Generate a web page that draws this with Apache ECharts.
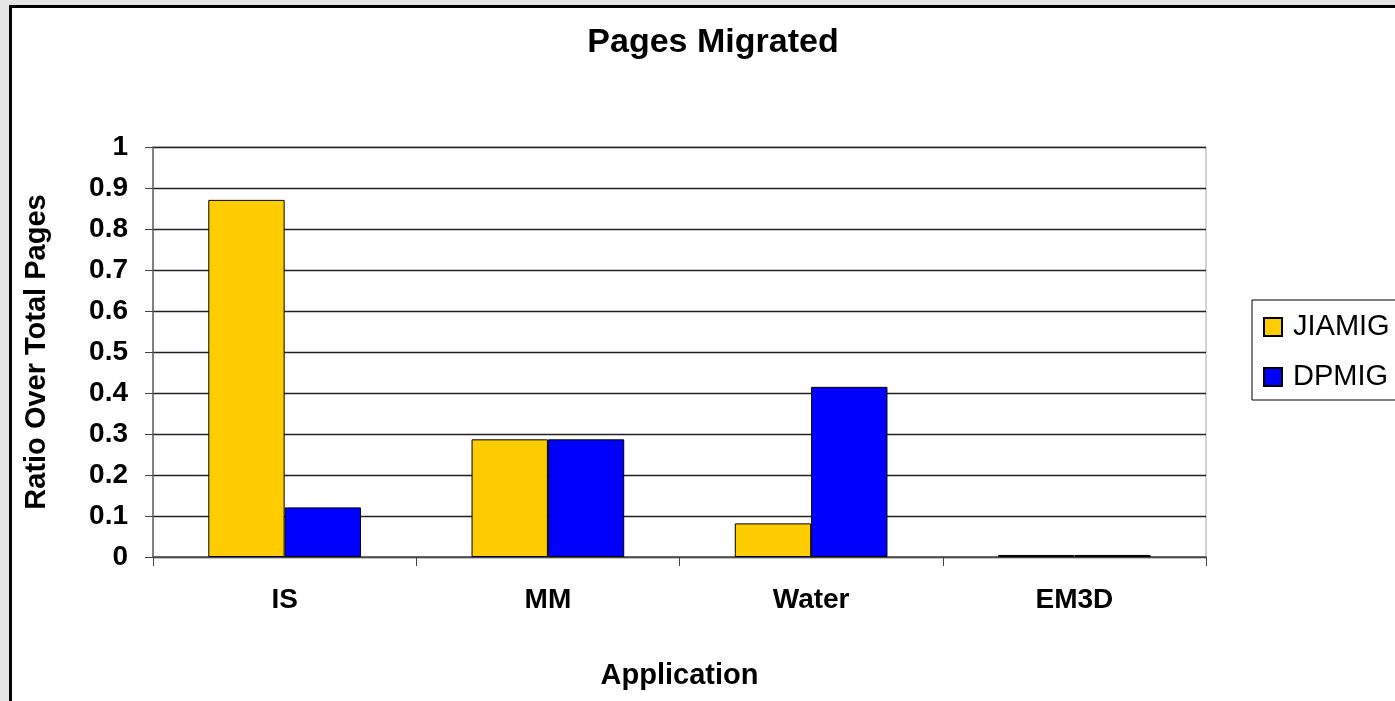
<!DOCTYPE html>
<html>
<head>
<meta charset="utf-8">
<script src="https://cdn.jsdelivr.net/npm/echarts@6/dist/echarts.min.js"></script>
<style>
  html, body { margin: 0; padding: 0; background: #e6e6e6; overflow: hidden; }
  #frame { position: absolute; left: 9px; top: 5px; width: 1500px; height: 800px; background: #fff; border: 3px solid #000; box-sizing: border-box; }
  #chart { position: absolute; left: 0; top: 0; width: 1395px; height: 701px; }
</style>
</head>
<body>
<div id="frame"></div>
<div id="chart"></div>
<script>
const categories = ['IS', 'MM', 'Water', 'EM3D'];
const seriesNames = ['JIAMIG', 'DPMIG'];
const jiamig = [0.871, 0.287, 0.082, 0.005];
const dpmig = [0.121, 0.287, 0.415, 0.005];
const yTicks = [0, 0.1, 0.2, 0.3, 0.4, 0.5, 0.6, 0.7, 0.8, 0.9, 1];

const FONT = "'Liberation Sans', Arial, sans-serif";
const chart = echarts.init(document.getElementById('chart'), null, { renderer: 'canvas' });

chart.setOption({
  backgroundColor: 'transparent',
  animation: false,
  title: {
    text: 'Pages Migrated',
    left: 708,
    textAlign: 'center',
    top: 21,
    textStyle: { fontFamily: FONT, fontSize: 34, fontWeight: 'bold', color: '#000' }
  },
  legend: {
    orient: 'vertical',
    left: 1252,
    top: 300,
    padding: [12, 30, 8, 11],
    itemGap: 20,
    itemWidth: 18,
    itemHeight: 18,
    icon: 'rect',
    borderColor: '#000',
    borderWidth: 1,
    backgroundColor: '#fff',
    data: seriesNames,
    textStyle: { fontFamily: FONT, fontSize: 29, color: '#000', lineHeight: 30, padding: [0, 0, 0, 6] }
  },
  grid: {
    left: 153, right: 189, top: 147, bottom: 144,
    show: true, borderColor: '#a8a8a8', borderWidth: 1, backgroundColor: 'transparent'
  },
  xAxis: {
    type: 'category',
    data: categories,
    name: 'Application',
    nameLocation: 'middle',
    nameGap: 104,
    nameTextStyle: { fontFamily: FONT, fontSize: 29, fontWeight: 'bold', color: '#000' },
    axisLine: { lineStyle: { color: '#555', width: 1.5 } },
    axisTick: { show: true, length: 9, lineStyle: { color: '#444' } },
    axisLabel: { margin: 29, fontFamily: FONT, fontSize: 28, fontWeight: 'bold', color: '#000' },
    splitLine: { show: false }
  },
  yAxis: {
    type: 'value',
    min: 0, max: 1, interval: 0.1,
    name: 'Ratio Over Total Pages',
    nameLocation: 'middle',
    nameGap: 102,
    nameRotate: 90,
    nameTextStyle: { fontFamily: FONT, fontSize: 29, fontWeight: 'bold', color: '#000' },
    axisLine: { show: true, lineStyle: { color: '#666', width: 1.5 } },
    axisTick: { show: true, length: 8, inside: false, lineStyle: { color: '#444' } },
    axisLabel: {
      margin: 25, fontFamily: FONT, fontSize: 28, fontWeight: 'bold', color: '#000',
      formatter: function (v) {
        const t = yTicks.find(function (x) { return Math.abs(x - v) < 1e-9; });
        return t === undefined ? '' : String(t);
      }
    },
    splitLine: { show: true, lineStyle: { color: '#222', width: 1.3 } }
  },
  series: [
    {
      name: seriesNames[0], type: 'bar', data: jiamig,
      barGap: '0%', barCategoryGap: '42%',
      itemStyle: { color: '#FFCC00', borderColor: '#000', borderWidth: 1 }
    },
    {
      name: seriesNames[1], type: 'bar', data: dpmig,
      barGap: '0%', barCategoryGap: '42%',
      itemStyle: { color: '#0000FF', borderColor: '#000', borderWidth: 1 }
    }
  ]
});
</script>
</body>
</html>
